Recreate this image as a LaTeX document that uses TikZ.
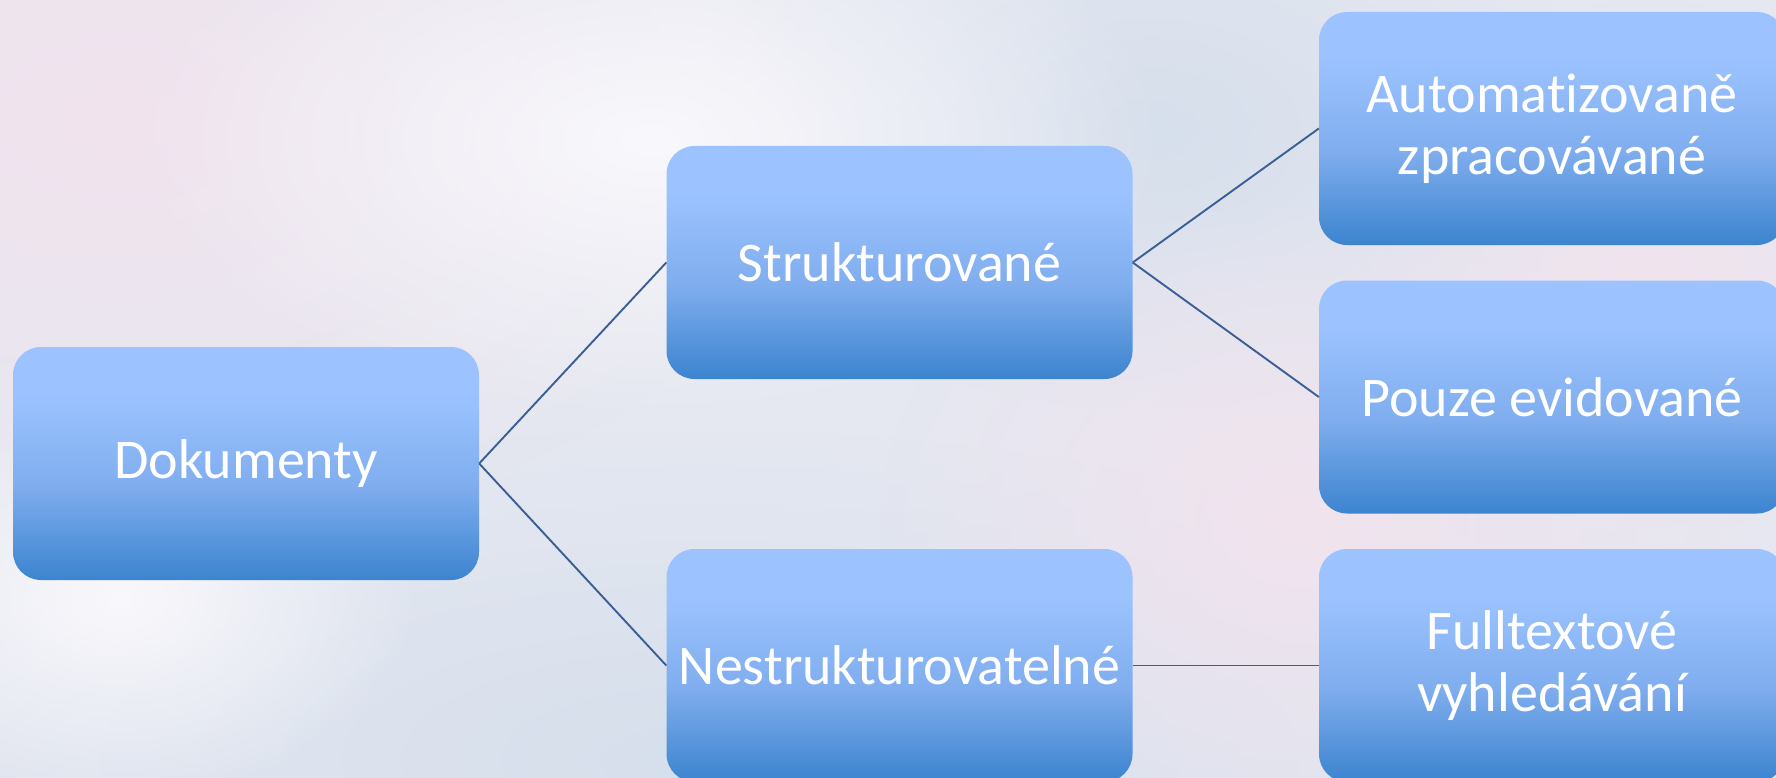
\documentclass[tikz,border=0pt]{standalone}
\usepackage{fontspec}
\setmainfont{Carlito}[Ligatures={NoCommon,NoContextual}]
\usetikzlibrary{fadings}
\definecolor{boxtop}{HTML}{9CC3FF}
\definecolor{boxmid}{HTML}{7FADEE}
\definecolor{boxbot}{HTML}{3C84CF}
\definecolor{linkc}{HTML}{3A5F94}
\definecolor{bgbase}{HTML}{E5E8F1}
\definecolor{bgpink}{HTML}{F1E3EE}
\definecolor{bgwhite}{HTML}{F9F8FC}
\definecolor{bgblue}{HTML}{D6DFEC}
\pgfdeclareverticalshading{boxshade}{100bp}{color(0bp)=(boxbot); color(25bp)=(boxbot); color(45bp)=(boxmid); color(65bp)=(boxtop); color(100bp)=(boxtop)}
\tikzfading[name=softspot, inner color=transparent!0, outer color=transparent!100]
\tikzset{
  box/.style={rectangle, rounded corners=28pt, shading=boxshade,
    minimum width=466pt, minimum height=233pt, inner sep=0pt,
    text=white, align=center,
    font=\fontsize{56}{62}\selectfont},
  link/.style={draw=linkc, line width=1.9pt},
  spot/.style={path fading=softspot}
}
\begin{document}
\begin{tikzpicture}[x=1pt,y=-1pt]
\useasboundingbox (0,0) rectangle (1776,778);
\clip (0,0) rectangle (1776,778);
\fill[bgbase] (0,0) rectangle (1776,778);
\fill[bgblue, spot] (700,760) ellipse [x radius=900, y radius=330];
\fill[bgblue, spot] (1150,130) ellipse [x radius=450, y radius=280];
\fill[bgpink, spot] (120,120) ellipse [x radius=700, y radius=420];
\fill[bgwhite, spot] (650,140) ellipse [x radius=520, y radius=280];
\fill[bgwhite, spot] (120,600) ellipse [x radius=300, y radius=200];
\fill[bgpink, spot] (1300,520) ellipse [x radius=420, y radius=330];
\fill[bgpink, spot] (1650,300) ellipse [x radius=300, y radius=300];
% nodes
\node[box] (dok) at (246,463.5) {Dokumenty};
\node[box] (str) at (899.5,262.5) {Strukturované};
\node[box] (nes) at (899.5,665.5) {Nestrukturovatelné};
\node[box] (aut) at (1552,128.5) {Automat\kern0pt izovaně\\zpracovávané};
\node[box] (pou) at (1552,397) {Pouze evidované};
\node[box] (ful) at (1552,665.5) {Fulltextové\\vyhledávání};
% connectors
\draw[link] (dok.east) -- (str.west);
\draw[link] (dok.east) -- (nes.west);
\draw[link] (str.east) -- (aut.west);
\draw[link] (str.east) -- (pou.west);
\draw[link] (nes.east) -- (ful.west);
\end{tikzpicture}
\end{document}
